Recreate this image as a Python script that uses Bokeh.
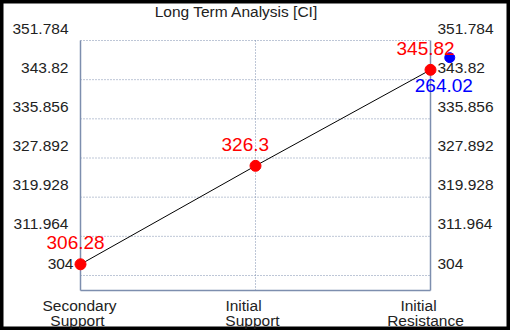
from bokeh.plotting import figure
from bokeh.models import ColumnDataSource, LabelSet, Range1d
from bokeh.core.properties import value
from bokeh.embed import file_html
from bokeh.resources import INLINE

# ---- data ----
title_text = "Long Term Analysis [CI]"
categories = ["Secondary\nSupport", "Initial\nSupport", "Initial\nResistance"]
values = [306.28, 326.3, 345.82]
value_labels = ["306.28", "326.3", "345.82"]
extra_value = 264.02          # blue point (drawn off-scale next to the last level)
extra_label = ["264.02"]
extra_marker_x = [2.11]
extra_marker_y = [348.3]
y_ticks = [304, 311.964, 319.928, 327.892, 335.856, 343.82, 351.784]
y_tick_labels = ["304", "311.964", "319.928", "327.892", "335.856", "343.82", "351.784"]

# ---- layout (pixels inside the figure) ----
W, H = 510, 330
PX_LEFT, PX_RIGHT = 80, 430
PX_TOP_TICK, PX_LOW_TICK, PX_BOTTOM = 40, 275, 290

xu = 2.0 / (PX_RIGHT - PX_LEFT)
x_start = 0 - PX_LEFT * xu
x_end = 2 + (W - PX_RIGHT) * xu
yu = (y_ticks[-1] - y_ticks[0]) / (PX_LOW_TICK - PX_TOP_TICK)
y_top = y_ticks[-1]
y_end = y_top + PX_TOP_TICK * yu
y_start = y_top - (H - PX_TOP_TICK) * yu
y_bottom = y_top - (PX_BOTTOM - PX_TOP_TICK) * yu

FONT = value("Liberation Sans")
GRID = "#7d8eae"
TXT = "#222222"

p = figure(width=W, height=H, output_backend="svg", toolbar_location=None,
           x_axis_type=None, y_axis_type=None, title=None,
           x_range=Range1d(x_start, x_end), y_range=Range1d(y_start, y_end))
p.min_border = 0
p.min_border_left = p.min_border_right = p.min_border_top = p.min_border_bottom = 0
p.grid.visible = False
p.background_fill_color = "white"
p.border_fill_color = "white"
p.outline_line_color = "black"
p.outline_line_width = 6

xs_cat = list(range(len(categories)))

# horizontal dotted grid lines
p.multi_line(xs=[[0, 2] for _ in y_ticks], ys=[[t, t] for t in y_ticks],
             line_color=GRID, line_width=1, line_dash="1 2")
# vertical dotted grid line at middle category
p.line([1, 1], [y_bottom, y_top], line_color=GRID, line_width=1, line_dash="1 2")
# solid frame lines
p.line([0, 0], [y_bottom, y_top], line_color=GRID, line_width=1.5)
p.line([2, 2], [y_bottom, y_top], line_color=GRID, line_width=1.5)
p.line([0, 2], [y_bottom, y_bottom], line_color=GRID, line_width=1.5)

# data line and points
src = ColumnDataSource(dict(x=xs_cat, y=values, lab=value_labels))
p.line("x", "y", source=src, line_color="black", line_width=1)
p.scatter("x", "y", source=src, size=11, color="red")

bsrc = ColumnDataSource(dict(x=extra_marker_x, y=extra_marker_y, lab=extra_label))
p.scatter("x", "y", source=bsrc, size=10, color="blue")

p.add_layout(LabelSet(x="x", y="y", text="lab", source=src, x_offset=-34, y_offset=15,
                      text_align="left", text_baseline="alphabetic", text_color="red",
                      text_font=FONT, text_font_size="19px"))
p.add_layout(LabelSet(x="x", y="y", text="lab", source=bsrc, x_offset=-35, y_offset=-34,
                      text_align="left", text_baseline="alphabetic", text_color="blue",
                      text_font=FONT, text_font_size="19px"))

# y tick labels on both sides (drawn above their grid lines)
left_dx = [-7] + [-12] * (len(y_ticks) - 1)
tsrc = ColumnDataSource(dict(xl=[0] * len(y_ticks), xr=[2] * len(y_ticks), y=y_ticks,
                             lab=y_tick_labels, dx=left_dx))
p.add_layout(LabelSet(x="xl", y="y", text="lab", source=tsrc, x_offset="dx", y_offset=12,
                      text_align="right", text_baseline="middle", text_color=TXT,
                      text_font=FONT, text_font_size="15.5px"))
p.add_layout(LabelSet(x="xr", y="y", text="lab", source=tsrc, x_offset=7, y_offset=12,
                      text_align="left", text_baseline="middle", text_color=TXT,
                      text_font=FONT, text_font_size="15.5px"))

# category labels, two centred lines each
line1 = [c.split("\n")[0] for c in categories]
line2 = [c.split("\n")[1] for c in categories]
csrc = ColumnDataSource(dict(x=xs_cat, y=[y_bottom] * len(categories), l1=line1, l2=line2,
                             dx1=[-1, -12, -12], dx2=[-3, -3, -5]))
p.add_layout(LabelSet(x="x", y="y", text="l1", source=csrc, x_offset="dx1", y_offset=-20,
                      text_align="center", text_baseline="alphabetic", text_color=TXT,
                      text_font=FONT, text_font_size="15.5px"))
p.add_layout(LabelSet(x="x", y="y", text="l2", source=csrc, x_offset="dx2", y_offset=-35,
                      text_align="center", text_baseline="alphabetic", text_color=TXT,
                      text_font=FONT, text_font_size="15.5px"))

# title
p.add_layout(LabelSet(x="x", y="y", text="t", source=ColumnDataSource(dict(x=[1], y=[y_top], t=[title_text])),
                      x_offset=-19, y_offset=24,
                      text_align="center", text_baseline="alphabetic", text_color=TXT,
                      text_font=FONT, text_font_size="15.5px"))

open("out.html", "w").write(file_html(p, INLINE))
